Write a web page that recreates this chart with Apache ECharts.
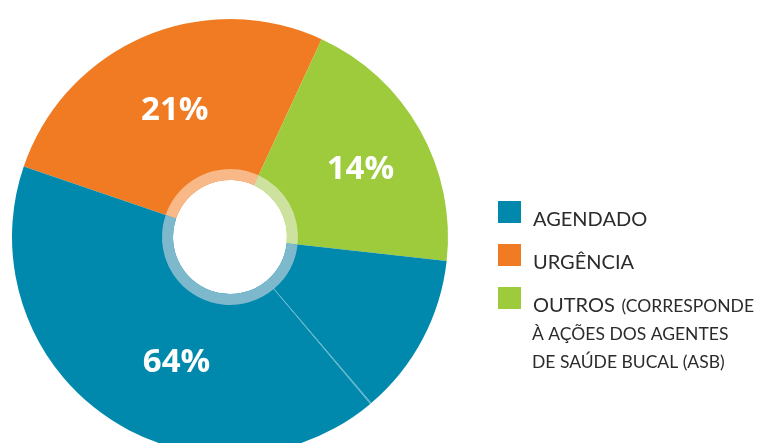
<!DOCTYPE html>
<html>
<head>
<meta charset="utf-8">
<script src="https://cdn.jsdelivr.net/npm/echarts@6/dist/echarts.min.js"></script>
<style>
  html, body { margin: 0; padding: 0; background: #fff; }
  #chart { width: 762px; height: 443px; }
</style>
</head>
<body>
<div id="chart"></div>
<script>
// slices, clockwise from the orange/blue edge on the left
var sliceNames = ['URGÊNCIA', 'OUTROS', 'AGENDADO', 'divisor', 'AGENDADO'];
// arc of each slice in degrees, measured on the picture (drawn arcs differ from printed %)
var sliceShares = [96, 71.5, 43.3, 0.35, 149];
// printed labels
var sliceLabels = ['21%', '14%', '', '', '64%'];

var legendNames = ['AGENDADO', 'URGÊNCIA', 'OUTROS'];
var legendMore = ['À AÇÕES DOS AGENTES', 'DE SAÚDE BUCAL (ASB)'];

var colors = {
  'URGÊNCIA': '#f07b22',
  'OUTROS': '#9dcb3c',
  'AGENDADO': '#0089ad',
  'divisor': '#55b0c8'
};
var lightColors = {
  'URGÊNCIA': '#f8b887',
  'OUTROS': '#cee29f',
  'AGENDADO': '#7db8cd',
  'divisor': '#a5cfdd'
};

var mainData = sliceNames.map(function (n, i) {
  return { name: n, value: sliceShares[i], label: { formatter: sliceLabels[i] }, itemStyle: { color: colors[n] } };
});
var ringData = sliceNames.map(function (n, i) {
  return { name: n, value: sliceShares[i], itemStyle: { color: lightColors[n] } };
});

var chart = echarts.init(document.getElementById('chart'));
chart.setOption({
  animation: false,
  legend: {
    orient: 'vertical',
    left: 498,
    top: 201,
    padding: 0,
    itemWidth: 23,
    itemHeight: 22,
    itemGap: 14,
    icon: 'rect',
    selectedMode: false,
    data: legendNames,
    formatter: function (name) {
      if (name === 'OUTROS') return '{a|OUTROS}  {b|(CORRESPONDE}';
      return '{a|' + name + '}';
    },
    textStyle: {
      padding: [16, 0, 0, 7],
      rich: {
        a: { fontFamily: 'Lato', fontSize: 20, color: '#2b2b2b', lineHeight: 20 },
        b: { fontFamily: 'Lato', fontSize: 17.5, color: '#2b2b2b', lineHeight: 20 }
      }
    }
  },
  graphic: [{
    type: 'text',
    left: 532,
    top: 321,
    style: {
      text: legendMore.join('\n'),
      font: '17.5px Lato',
      fill: '#2b2b2b',
      lineHeight: 27.5
    }
  }],
  series: [{
    type: 'pie',
    center: [230, 237],
    radius: [57, 218],
    startAngle: 161.1,
    clockwise: true,
    silent: true,
    avoidLabelOverlap: false,
    itemStyle: { borderWidth: 0 },
    label: {
      show: true,
      position: 'inside',
      color: '#fff',
      fontFamily: 'Open Sans',
      fontWeight: 'bold',
      fontSize: 33
    },
    labelLine: { show: false },
    labelLayout: function (p) {
      if (p.dataIndex === 0) return { dx: 0, dy: 3 };
      if (p.dataIndex === 1) return { dx: 8, dy: 2 };
      if (p.dataIndex === 4) return { dx: 26, dy: 10 };
      return {};
    },
    data: mainData
  }, {
    type: 'pie',
    center: [230, 237],
    radius: [57, 68],
    startAngle: 161.1,
    clockwise: true,
    silent: true,
    itemStyle: { borderWidth: 0 },
    label: { show: false },
    labelLine: { show: false },
    data: ringData
  }]
});
</script>
</body>
</html>
